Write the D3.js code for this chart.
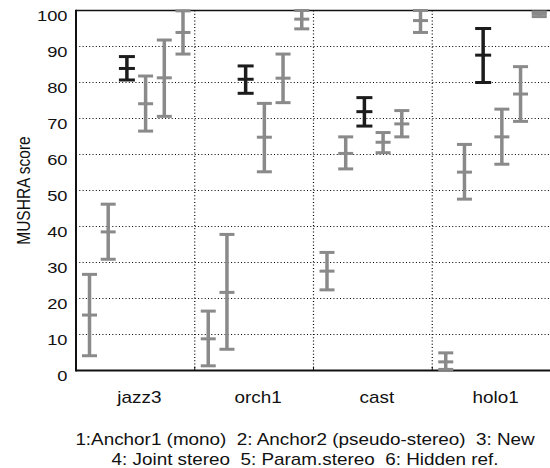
<!DOCTYPE html>
<html>
<head>
<meta charset="utf-8">
<script src="https://cdn.jsdelivr.net/npm/d3@7"></script>
<style>
  body { margin: 0; background: #fff; }
  text { font-family: Arial, "Liberation Sans", sans-serif; fill: #111; }
</style>
</head>
<body>
<svg id="chart" width="550" height="468"></svg>
<script>
// excerpts and test conditions
const excerpts = ['jazz3', 'orch1', 'cast', 'holo1'];
const conditions = ['1', '2', '3', '4', '5', '6'];
const yTicks = [0, 10, 20, 30, 40, 50, 60, 70, 80, 90, 100];

// mean MUSHRA score per excerpt, one value per condition
const meanScores = [
  [15.4, 38.5, 83.9, 74.1, 81.3, 93.9],
  [8.8, 21.7, 80.9, 64.8, 81.2, 97.6],
  [27.6, 60.3, 71.9, 63.4, 68.5, 97.2],
  [2.4, 55.1, 87.6, 64.9, 76.8, 99.1]
];
// confidence interval bounds
const lowerCI = [
  [4.1, 30.9, 80.7, 66.5, 70.6, 87.9],
  [1.3, 5.9, 77.0, 55.2, 74.4, 94.9],
  [22.4, 56.0, 67.9, 60.5, 64.9, 93.9],
  [0.3, 47.6, 80.0, 57.3, 69.2, 98.3]
];
const upperCI = [
  [26.7, 46.2, 87.2, 81.8, 91.8, 99.9],
  [16.5, 37.8, 84.6, 74.2, 87.9, 100],
  [32.8, 64.9, 75.8, 66.1, 72.2, 100],
  [4.9, 62.8, 95.0, 72.6, 84.4, 99.6]
];
const legendLines = [
  '1:Anchor1 (mono)  2: Anchor2 (pseudo-stereo)  3: New',
  '4: Joint stereo  5: Param.stereo  6: Hidden ref.'
];

const svg = d3.select('#chart');
const plotL = 76, plotR = 551, plotT = 10.5, plotB = 370.5;
const stretch = 1.18; // the original figure is a bit wider than tall

const x = d3.scaleBand().domain(excerpts).range([plotL, plotR]);
const xInner = d3.scalePoint().domain(conditions).range([13.5, 107]);
const y = d3.scaleLinear().domain([0, 100]).range([plotB, plotT]);

const gray = '#8a8a8a';
const dark = '#1c1c1c';

// dotted grid
svg.append('g')
  .selectAll('line')
  .data(yTicks.filter(d => d > 0 && d < 100))
  .join('line')
  .attr('x1', plotL).attr('x2', plotR)
  .attr('y1', d => y(d)).attr('y2', d => y(d))
  .attr('stroke', '#000').attr('stroke-width', 1.2)
  .attr('stroke-dasharray', '1,2.3');

svg.append('g')
  .selectAll('line')
  .data(excerpts.slice(1))
  .join('line')
  .attr('x1', d => x(d)).attr('x2', d => x(d))
  .attr('y1', plotT).attr('y2', plotB)
  .attr('stroke', '#000').attr('stroke-width', 1.2)
  .attr('stroke-dasharray', '1,2.3');

// frame: top, left, bottom
svg.append('line').attr('x1', plotL).attr('x2', plotR).attr('y1', y(100)).attr('y2', y(100))
  .attr('stroke', '#111').attr('stroke-width', 1.5);
svg.append('line').attr('x1', plotL).attr('x2', plotL).attr('y1', plotT - 0.7).attr('y2', plotB + 1)
  .attr('stroke', '#111').attr('stroke-width', 2);
svg.append('line').attr('x1', plotL).attr('x2', plotR).attr('y1', plotB).attr('y2', plotB)
  .attr('stroke', '#111').attr('stroke-width', 2);

// small ticks on the bottom axis
svg.append('g')
  .selectAll('line')
  .data(excerpts.slice(1))
  .join('line')
  .attr('x1', d => x(d)).attr('x2', d => x(d))
  .attr('y1', plotB).attr('y2', plotB - 4)
  .attr('stroke', '#111').attr('stroke-width', 1);

// y tick labels (they hang just below their grid line)
svg.append('g')
  .selectAll('text')
  .data(yTicks)
  .join('text')
  .attr('transform', d => `translate(67.5,${y(d) + 10.5}) scale(${stretch},1)`)
  .attr('text-anchor', 'end')
  .attr('font-size', 15.5)
  .text(d => d);

// y axis title
svg.append('text')
  .attr('transform', `translate(30,${(plotT + plotB) / 2}) scale(${stretch},1) rotate(-90)`)
  .attr('text-anchor', 'middle')
  .attr('font-size', 15.5)
  .text('MUSHRA score');

// excerpt labels
svg.append('g')
  .selectAll('text')
  .data(excerpts)
  .join('text')
  .attr('transform', d => `translate(${x(d) + x.bandwidth() / 2 + 4},403) scale(${stretch},1)`)
  .attr('text-anchor', 'middle')
  .attr('font-size', 16)
  .text(d => d);

// error bars
const bars = [];
excerpts.forEach((ex, gi) => {
  conditions.forEach((c, ci) => {
    bars.push({
      ex, c,
      mean: meanScores[gi][ci],
      lo: lowerCI[gi][ci],
      hi: upperCI[gi][ci]
    });
  });
});

const bar = svg.append('g')
  .selectAll('g')
  .data(bars)
  .join('g')
  .attr('transform', d => `translate(${x(d.ex) + xInner(d.c)},0)`)
  .attr('stroke', d => d.c === '3' ? dark : gray);

const capW = d => d.c === '3' ? 8 : 7.5;

bar.append('line')
  .attr('y1', d => y(d.lo)).attr('y2', d => y(d.hi))
  .attr('stroke-width', 3.5);
bar.append('line')
  .attr('x1', d => -capW(d)).attr('x2', d => capW(d))
  .attr('y1', d => y(d.lo)).attr('y2', d => y(d.lo))
  .attr('stroke-width', 3);
bar.append('line')
  .attr('x1', d => -capW(d)).attr('x2', d => capW(d))
  .attr('y1', d => y(d.hi)).attr('y2', d => y(d.hi))
  .attr('stroke-width', 3);
bar.append('line')
  .attr('x1', d => -capW(d)).attr('x2', d => capW(d))
  .attr('y1', d => y(d.mean)).attr('y2', d => y(d.mean))
  .attr('stroke-width', 3);

// condition legend
svg.append('g')
  .selectAll('text')
  .data(legendLines)
  .join('text')
  .attr('transform', (d, i) => `translate(305,${445 + i * 19.5}) scale(${stretch},1)`)
  .attr('text-anchor', 'middle')
  .attr('font-size', 16)
  .attr('xml:space', 'preserve')
  .style('white-space', 'pre')
  .text(d => d);
</script>
</body>
</html>
